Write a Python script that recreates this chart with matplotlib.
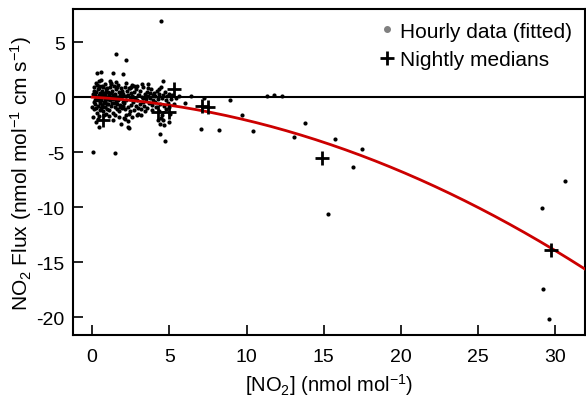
import numpy as np
import matplotlib
matplotlib.use("Agg")
import matplotlib.pyplot as plt
from matplotlib.lines import Line2D

plt.rcParams['font.family'] = ['Liberation Sans', 'DejaVu Sans']
plt.rcParams['mathtext.default'] = 'regular'
plt.rcParams['axes.unicode_minus'] = False

# Hourly data (dense cluster + edges + outliers)
hourly_pts = [
    (0.05,0.3),(0.1,-0.4),(0.12,0.9),(0.15,-1.1),(0.18,0.1),(0.2,-0.6),(0.22,1.3),(0.25,-0.2),(0.28,0.5),(0.3,-1.4),
    (0.32,0.0),(0.35,-0.8),(0.37,0.7),(0.4,-0.3),(0.42,1.0),(0.45,-1.7),(0.47,0.2),(0.5,-0.5),(0.52,0.4),(0.55,-1.0),
    (0.57,1.6),(0.6,-0.1),(0.62,0.6),(0.65,-0.7),(0.67,0.1),(0.7,-1.3),(0.72,0.9),(0.75,-0.4),(0.77,0.3),(0.8,-0.9),
    (0.82,1.2),(0.85,-0.2),(0.87,0.5),(0.9,-1.5),(0.92,0.0),(0.95,-0.6),(0.97,0.8),(0.08,-1.8),(0.14,0.6),(0.26,-1.0),
    (0.33,1.1),(0.44,-0.1),(0.53,-1.2),(0.63,1.0),(0.74,-0.5),(0.83,0.2),(0.93,-1.1),(0.02,-0.9),(0.38,-2.0),(0.58,-0.3),
    (0.68,0.4),(0.78,-1.6),(0.88,0.7),(0.98,-0.2),(0.16,0.4),(0.46,0.8),(0.66,-0.9),(0.86,-0.4),(0.21,-0.3),(0.51,0.1),
    (1.02,0.5),(1.05,-0.6),(1.08,0.1),(1.1,-1.2),(1.13,0.9),(1.16,-0.3),(1.19,0.4),(1.22,-0.8),(1.25,1.3),(1.28,-0.1),
    (1.31,0.6),(1.34,-1.4),(1.37,0.2),(1.4,-0.5),(1.43,1.0),(1.46,-0.9),(1.49,0.3),(1.52,-0.2),(1.55,0.7),(1.58,-1.1),
    (1.61,0.0),(1.64,-0.6),(1.67,1.1),(1.7,-0.3),(1.73,0.5),(1.76,-1.3),(1.79,0.2),(1.82,-0.7),(1.85,0.8),(1.88,-0.1),
    (1.91,-1.0),(1.94,0.4),(1.97,-0.4),(1.07,-1.7),(1.18,1.5),(1.33,-0.2),(1.48,-1.6),(1.63,0.9),(1.78,-0.9),(1.93,0.6),
    (1.12,0.3),(1.27,-0.5),(1.42,0.0),(1.57,-0.4),(1.72,-1.8),(1.87,0.2),(1.03,-0.2),(1.53,1.4),(1.68,-0.2),(1.98,-0.8),
    (2.02,0.3),(2.05,-0.5),(2.1,0.9),(2.13,-1.1),(2.18,0.1),(2.22,-0.3),(2.26,0.6),(2.3,-0.9),(2.34,0.2),(2.38,-1.5),
    (2.42,0.8),(2.46,-0.2),(2.5,0.4),(2.54,-0.7),(2.58,1.1),(2.62,-0.4),(2.66,0.0),(2.7,-1.2),(2.74,0.5),(2.78,-0.1),
    (2.82,-0.8),(2.86,0.7),(2.9,-0.3),(2.94,0.2),(2.98,-1.0),(2.08,-1.9),(2.2,-1.6),(2.35,-2.2),(2.45,-1.3),(2.6,-1.8),
    (2.16,1.3),(2.52,0.9),(2.72,1.0),(2.88,-1.6),(2.55,0.1),
    (3.03,0.2),(3.08,-0.6),(3.12,0.6),(3.17,-1.1),(3.22,0.0),(3.27,-0.4),(3.32,0.9),(3.37,-0.8),(3.42,0.3),(3.47,-0.2),
    (3.52,0.5),(3.57,-1.0),(3.62,0.1),(3.67,-0.5),(3.72,0.4),(3.77,-0.1),(3.82,0.7),(3.87,-0.7),(3.92,0.2),(3.97,-0.3),
    (3.15,-1.6),(3.45,-1.3),(3.6,0.8),(3.85,-1.2),(3.3,-0.1),
    (4.02,0.4),(4.06,-0.4),(4.1,0.1),(4.15,-0.9),(4.2,0.6),(4.25,-0.2),(4.3,-1.3),(4.35,0.3),(4.4,-0.6),(4.45,0.9),
    (4.5,-0.1),(4.55,-1.6),(4.6,0.2),(4.65,-0.8),(4.7,0.5),(4.75,-0.3),(4.8,-1.1),(4.85,0.1),(4.9,-0.5),(4.95,0.3),
    (5.0,-0.9),(5.1,-0.2),(5.2,0.2),(5.3,-0.6),(5.45,-0.1),(4.28,-2.1),(4.62,-2.5),(4.48,-1.9),(5.05,-1.5),(5.6,0.1),
    (0.3,2.2),(0.6,2.3),(1.33,2.2),(2.0,2.1),(3.24,1.2),(3.6,1.15),(2.4,0.8),(1.23,1.2),(0.47,1.5),(4.3,0.7),(2.9,1.0),
    (0.26,-2.3),(0.47,-2.7),(1.33,-2.1),(1.88,-2.4),(2.3,-2.7),(2.4,-2.8),(2.1,-2.0),(3.0,-1.5),(4.36,-2.4),(5.0,-2.3),
    (4.57,-2.1),(6.0,-0.5),
    (4.47,6.95),(1.55,3.9),(2.2,3.4),(0.08,-5.0),(1.5,-5.1),(4.42,-3.3),(4.7,-4.0),(4.57,1.44),(6.4,0.14),(7.05,-2.9),
    (7.27,-0.05),(8.2,-3.0),(8.93,-0.3),(9.7,-1.65),(10.44,-3.1),(11.3,0.07),(11.8,0.2),(12.3,0.14),(13.1,-3.65),
    (13.8,-2.35),(15.75,-3.8),(17.5,-4.7),(16.87,-6.3),(15.3,-10.6),(30.6,-7.6),(29.1,-10.1),(29.2,-17.4),(29.6,-20.1),
]
hourly_x = [p[0] for p in hourly_pts]
hourly_y = [p[1] for p in hourly_pts]

# Nightly medians
median_x = [0.69, 5.33, 4.25, 5.0, 7.1, 7.5, 14.9, 29.7]
median_y = [-2.1, 0.77, -1.35, -1.35, -0.8, -0.9, -5.5, -13.9]

# Quadratic fit coefficients (flux = a*x + b*x^2)
fit_a = -0.082
fit_b = -0.01276

fig = plt.figure(figsize=(5.86, 4.02), dpi=100)
ax = fig.add_axes([0.1246, 0.164, 0.8734, 0.811])

ax.axhline(0, color='black', lw=1.5, zorder=1)
ax.scatter(hourly_x, hourly_y, s=9, color='black', zorder=3, linewidths=0)
xf = np.linspace(0, 32, 200)
ax.plot(xf, fit_a * xf + fit_b * xf**2, color='#cc0000', lw=2, zorder=4)
ax.scatter(median_x, median_y, marker='+', s=110, color='black', linewidths=2, zorder=5)

ax.set_xlim(-1.24, 31.9)
ax.set_ylim(-21.6, 8.0)
ax.set_xticks([0, 5, 10, 15, 20, 25, 30])
ax.set_yticks([-20, -15, -10, -5, 0, 5])
ax.tick_params(direction='in', length=7, width=1.2, labelsize=14)
ax.tick_params(axis='x', pad=9)
ax.tick_params(axis='y', pad=6)
for s in ax.spines.values():
    s.set_linewidth(1.5)

ax.set_xlabel('[NO$_2$] (nmol mol$^{-1}$)', fontsize=14.5, labelpad=5)
ax.set_ylabel('NO$_2$ Flux (nmol mol$^{-1}$ cm s$^{-1}$)', fontsize=15, labelpad=2)

handles = [
    Line2D([], [], marker='o', ls='none', color='grey', markersize=4),
    Line2D([], [], marker='+', ls='none', color='black', markersize=10, markeredgewidth=2),
]
ax.legend(handles, ['Hourly data (fitted)', 'Nightly medians'], loc='upper right',
          frameon=False, fontsize=15, handletextpad=0.25, handlelength=0.8,
          borderaxespad=0.2, labelspacing=0.45)

fig.savefig('out.png', dpi=100)
